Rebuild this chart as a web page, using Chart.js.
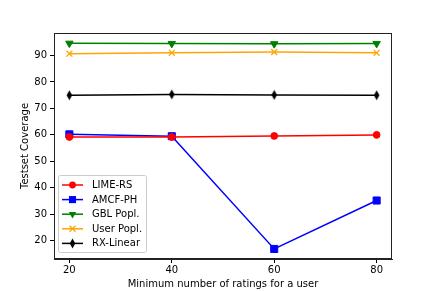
<!DOCTYPE html>
<html><head><meta charset="utf-8">
<script src="https://cdn.jsdelivr.net/npm/chart.js@4/dist/chart.umd.min.js"></script>
<style>html,body{margin:0;padding:0;background:#fff}#wrap{width:436px;height:291px;position:relative}</style>
</head><body><div id="wrap"><canvas id="c"></canvas></div>
<script>
const xValues = [20, 40, 60, 80];
const limeRS = [59.2, 59.2, 59.6, 60.0];
const amcfPH = [60.2, 59.5, 16.9, 35.2];
const gblPopl = [94.6, 94.5, 94.4, 94.5];
const userPopl = [90.7, 91.0, 91.3, 91.0];
const rxLinear = [75.0, 75.3, 75.1, 75.0];
const seriesNames = ['LIME-RS', 'AMCF-PH', 'GBL Popl.', 'User Popl.', 'RX-Linear'];
const yTicks = [20, 30, 40, 50, 60, 70, 80, 90];
const xTicks = [20, 40, 60, 80];

const FONT = 'DejaVu Sans';
const FS = 10;

function thinDiamond(color) {
  const c = document.createElement('canvas');
  c.width = 7; c.height = 11;
  const g = c.getContext('2d');
  g.fillStyle = color;
  g.beginPath();
  g.moveTo(3.5, 0.5); g.lineTo(6.3, 5.5); g.lineTo(3.5, 10.5); g.lineTo(0.7, 5.5); g.closePath();
  g.fill();
  return c;
}
const diamondImg = thinDiamond('#000000');

const styles = [
  {color: '#ff0000', pointStyle: 'circle', radius: 3.4, rotation: 0},
  {color: '#0000ff', pointStyle: 'rect', radius: 5, rotation: 0},
  {color: '#008000', pointStyle: 'triangle', radius: 4.3, rotation: 180},
  {color: '#ffa500', pointStyle: 'crossRot', radius: 4.2, rotation: 0},
  {color: '#000000', pointStyle: diamondImg, radius: 4, rotation: 0}
];
const allSeries = [limeRS, amcfPH, gblPopl, userPopl, rxLinear];

const datasets = allSeries.map((vals, i) => ({
  label: seriesNames[i],
  data: xValues.map((x, j) => ({x: x, y: vals[j]})),
  borderColor: styles[i].color,
  backgroundColor: styles[i].color,
  borderWidth: 1.5,
  pointStyle: styles[i].pointStyle,
  pointRadius: styles[i].radius,
  pointRotation: styles[i].rotation,
  pointBorderWidth: styles[i].pointStyle === 'crossRot' ? 1.3 : 1,
  pointBorderColor: styles[i].color,
  pointBackgroundColor: styles[i].color,
  tension: 0,
  fill: false
}));

function drawMarker(ctx, st, x, y) {
  ctx.save();
  ctx.fillStyle = st.color; ctx.strokeStyle = st.color; ctx.lineWidth = 1.3;
  if (st.pointStyle instanceof HTMLCanvasElement) {
    ctx.drawImage(st.pointStyle, x - st.pointStyle.width / 2, y - st.pointStyle.height / 2);
  } else if (st.pointStyle === 'circle') {
    ctx.beginPath(); ctx.arc(x, y, st.radius, 0, Math.PI * 2); ctx.fill();
  } else if (st.pointStyle === 'rect') {
    const s = st.radius * Math.SQRT1_2;
    ctx.fillRect(x - s, y - s, 2 * s, 2 * s);
  } else if (st.pointStyle === 'triangle') {
    const r = st.radius;
    ctx.beginPath();
    ctx.moveTo(x, y + r);
    ctx.lineTo(x - r * Math.sin(Math.PI / 3), y - r / 2);
    ctx.lineTo(x + r * Math.sin(Math.PI / 3), y - r / 2);
    ctx.closePath(); ctx.fill();
  } else if (st.pointStyle === 'crossRot') {
    const d = st.radius * Math.SQRT1_2;
    ctx.beginPath();
    ctx.moveTo(x - d, y - d); ctx.lineTo(x + d, y + d);
    ctx.moveTo(x + d, y - d); ctx.lineTo(x - d, y + d);
    ctx.stroke();
  }
  ctx.restore();
}

const framePlugin = {
  id: 'frame',
  afterDraw(chart) {
    const ctx = chart.ctx;
    const a = chart.chartArea;
    ctx.save();
    ctx.strokeStyle = '#222';
    ctx.lineWidth = 1;
    ctx.strokeRect(Math.round(a.left) + 0.5, Math.round(a.top) + 0.5, Math.round(a.right - a.left) - 1, Math.round(a.bottom - a.top) - 1);
    // legend
    const bx = 58, by = 175, bw = 88, bh = 77;
    ctx.fillStyle = 'rgba(255,255,255,0.85)';
    ctx.strokeStyle = '#cccccc';
    ctx.lineWidth = 1;
    ctx.beginPath();
    if (ctx.roundRect) ctx.roundRect(bx + 0.5, by + 0.5, bw, bh, 2); else ctx.rect(bx + 0.5, by + 0.5, bw, bh);
    ctx.fill(); ctx.stroke();
    ctx.font = FS + 'px "' + FONT + '"';
    ctx.textBaseline = 'middle';
    ctx.textAlign = 'left';
    chart.data.datasets.forEach((ds, i) => {
      const y = 185 + i * 14.6;
      ctx.strokeStyle = ds.borderColor;
      ctx.lineWidth = 1.5;
      ctx.beginPath(); ctx.moveTo(62, y); ctx.lineTo(83, y); ctx.stroke();
      drawMarker(ctx, styles[i], 72.5, y);
      ctx.fillStyle = '#000';
      ctx.fillText(ds.label, 92, y + 0.5);
    });
    ctx.restore();
  }
};

new Chart(document.getElementById('c'), {
  type: 'line',
  data: {datasets: datasets},
  options: {
    responsive: true,
    maintainAspectRatio: false,
    animation: false,
    devicePixelRatio: 1,
    layout: {padding: {left: 0, top: 33, right: 44, bottom: 0}},
    plugins: {legend: {display: false}, tooltip: {enabled: false}},
    scales: {
      x: {
        type: 'linear',
        min: 17, max: 83,
        afterBuildTicks: (s) => { s.ticks = xTicks.map(v => ({value: v})); },
        afterFit: (s) => { s.height = 32; },
        grid: {display: true, drawOnChartArea: false, drawTicks: true, tickLength: 4, color: '#000', tickWidth: 1},
        border: {display: true, color: '#222', width: 1},
        ticks: {color: '#000', font: {family: FONT, size: FS}, padding: 1, maxRotation: 0, autoSkip: false},
        title: {display: true, text: 'Minimum number of ratings for a user', color: '#000', font: {family: FONT, size: FS}, padding: {top: 0, bottom: 1}}
      },
      y: {
        type: 'linear',
        min: 13.1, max: 98.5,
        afterBuildTicks: (s) => { s.ticks = yTicks.map(v => ({value: v})); },
        afterFit: (s) => { s.width = 54; },
        grid: {display: true, drawOnChartArea: false, drawTicks: true, tickLength: 4, color: '#000', tickWidth: 1},
        border: {display: true, color: '#222', width: 1},
        ticks: {color: '#000', font: {family: FONT, size: FS}, padding: 3, autoSkip: false},
        title: {display: true, text: 'Testset Coverage', color: '#000', font: {family: FONT, size: FS}, padding: {top: 19, bottom: 0}}
      }
    }
  },
  plugins: [framePlugin]
});
</script></body></html>
